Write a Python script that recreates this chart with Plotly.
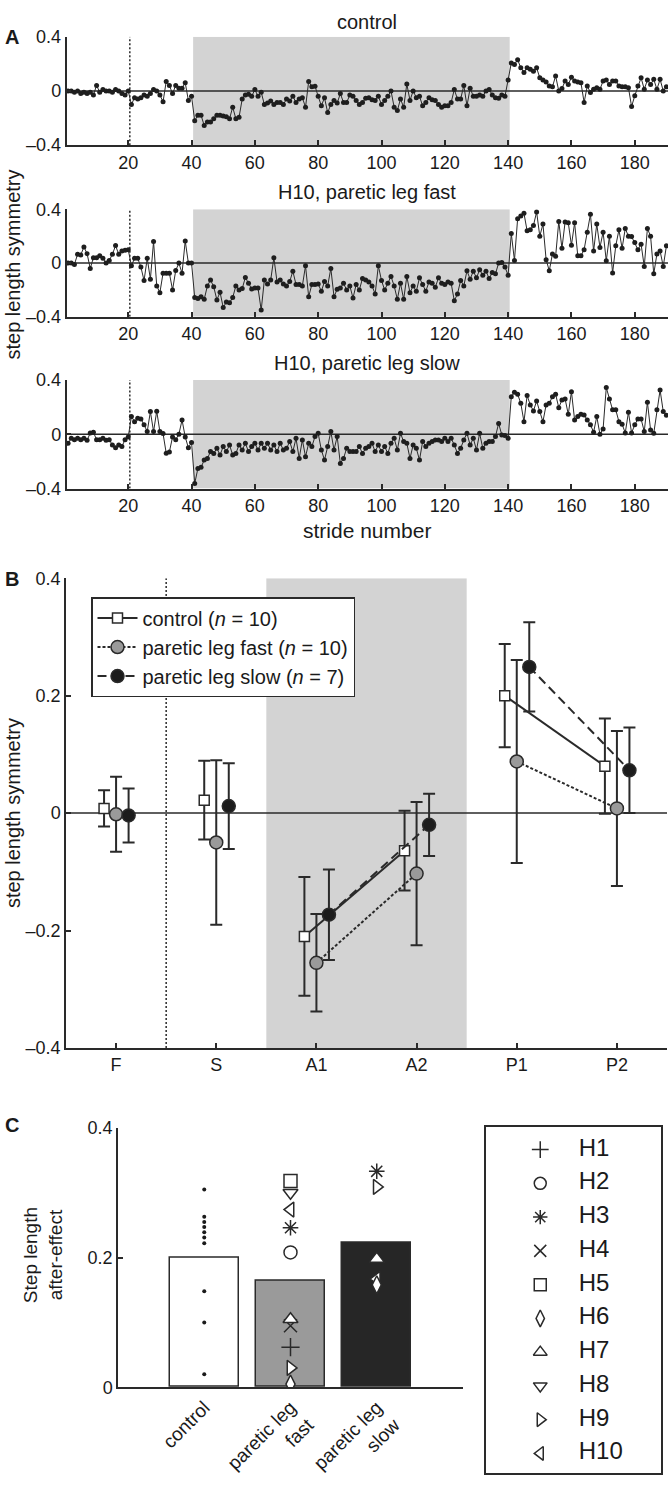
import plotly.graph_objects as go

FONT = "Liberation Sans, Arial, sans-serif"
INK = "#2a2a2a"
SHADE = "#d3d3d3"

# ---------------- Panel A: stride-by-stride step length symmetry ----------------
ctrl_baseline = [0.00, 0.00, -0.01, 0.00, -0.02, -0.01, -0.02, -0.01, -0.03, 0.04,
                 -0.01, 0.01, 0.00, 0.00, -0.01, 0.01, 0.00, -0.02, -0.03, 0.00]
ctrl_split = [-0.10, -0.05, -0.06, -0.05, -0.03, -0.04, -0.02, 0.01, 0.00, -0.03,
              -0.08, 0.07, 0.04, -0.02, 0.04, 0.02, 0.02, 0.06, -0.07, -0.04]
ctrl_adapt = [-0.22, -0.18, -0.18, -0.255, -0.23, -0.23, -0.205, -0.18, -0.18, -0.185,
              -0.19, -0.205, -0.12, -0.205, -0.195, -0.06, -0.03, -0.025, -0.04, 0.01,
              -0.04, -0.01, -0.10, -0.09, -0.075, -0.10, -0.085, -0.085, -0.10, -0.06,
              -0.075, -0.04, -0.085, -0.06, -0.05, -0.12, 0.07, 0.03, 0.035, -0.04,
              -0.11, -0.05, -0.16, -0.10, -0.07, -0.09, -0.02, -0.085, -0.085, -0.03,
              -0.04, -0.07, -0.10, -0.085, -0.055, -0.05, -0.065, -0.07, -0.04, -0.10,
              -0.07, -0.04, 0.00, -0.12, -0.145, -0.06, -0.12, 0.05, -0.07, 0.00,
              -0.05, -0.04, -0.11, -0.085, -0.05, -0.065, -0.07, -0.10, -0.12, -0.11,
              -0.11, -0.085, 0.01, -0.06, -0.06, 0.04, -0.11, 0.02, -0.04, -0.04,
              -0.03, -0.04, 0.00, 0.01, -0.03, -0.05, -0.055, -0.03, -0.04, 0.08]
ctrl_post = [0.205, 0.194, 0.23, 0.17, 0.135, 0.17, 0.16, 0.145, 0.17, 0.097,
             0.08, 0.065, 0.036, 0.03, 0.11, 0.00, 0.017, 0.073, 0.048, 0.10,
             0.073, 0.065, 0.06, -0.085, 0.036, -0.012, 0.012, 0.024, 0.012, 0.073,
             0.08, 0.048, 0.073, 0.073, 0.036, 0.03, 0.03, 0.024, -0.115, -0.036,
             0.036, 0.097, 0.012, 0.08, 0.048, 0.085, 0.012, 0.085, 0.00, 0.03]

fast_baseline = [0.00, 0.00, -0.01, 0.065, 0.06, 0.12, 0.07, -0.04, 0.04, 0.04,
                 0.055, 0.035, 0.00, 0.02, 0.065, 0.13, 0.065, 0.09, 0.095, 0.10]
fast_split = [-0.02, 0.035, 0.035, -0.03, -0.13, 0.035, -0.12, 0.16, -0.17, -0.22,
              -0.075, -0.075, -0.075, -0.20, -0.055, 0.00, -0.075, 0.165, 0.00, 0.00]
fast_adapt = [-0.257, -0.264, -0.25, -0.27, -0.17, -0.126, -0.176, -0.274, -0.217, -0.33,
              -0.29, -0.295, -0.257, -0.17, -0.20, -0.19, -0.107, -0.15, -0.193, -0.186,
              -0.186, -0.35, -0.126, -0.155, -0.126, 0.04, -0.14, -0.126, -0.155, -0.17,
              -0.138, -0.06, -0.16, -0.16, -0.17, -0.02, -0.25, -0.16, -0.16, -0.155,
              -0.21, -0.138, -0.17, -0.04, -0.25, -0.195, -0.186,
              -0.15, -0.2, -0.17, -0.26, -0.16, -0.2, -0.114, -0.125, -0.14, -0.17,
              -0.23, -0.02, -0.13, -0.2, -0.15, -0.10, -0.17, -0.27, -0.15, -0.27,
              -0.10, -0.22, -0.17, -0.21, -0.11, -0.16, -0.21, -0.14, -0.15, -0.18,
              -0.11, -0.15, -0.16, -0.14, -0.15, -0.28, -0.23, -0.13, -0.17, -0.057,
              -0.12, -0.06, -0.11, -0.05, -0.09, -0.06, -0.115, -0.07, -0.08, 0.00,
              0.005, -0.03, -0.09]
fast_post = [0.22, 0.02, 0.33, 0.35, 0.37, 0.24, 0.247, 0.28, 0.38, 0.2,
             0.29, 0.025, -0.057, 0.067, 0.05, 0.31, 0.11, 0.306, 0.30, 0.133,
             0.30, 0.054, 0.054, 0.10, 0.23, 0.363, 0.09, 0.29, 0.116, 0.23,
             0.017, 0.20, -0.074, 0.128, 0.247, 0.11, 0.257, 0.20, 0.197, 0.153,
             0.10, 0.14, -0.025, 0.257, 0.20, -0.08, 0.067, 0.09, -0.025, 0.128]

slow_baseline = [-0.067, -0.03, -0.04, -0.03, -0.04, -0.03, -0.045, 0.01, 0.015, -0.04,
                 -0.04, -0.03, -0.045, -0.04, -0.08, -0.10, -0.08, -0.09, -0.04, -0.02]
slow_split = [0.13, 0.093, 0.118, 0.113, 0.07, 0.02, 0.167, 0.02, 0.17, 0.02,
              0.005, -0.14, -0.13, -0.02, -0.04, 0.00, 0.105, -0.02, -0.10, -0.06]
slow_adapt = [-0.363, -0.252, -0.244, -0.19, -0.178, -0.128, -0.141, -0.104, -0.153, -0.091,
              -0.128, -0.079, -0.153, -0.141, -0.079, -0.116, -0.067, -0.128, -0.091, -0.067,
              -0.116, -0.067, -0.104, -0.067, -0.116, -0.079, -0.128, -0.067, -0.116, -0.104,
              -0.054, -0.128, -0.03, -0.178, -0.042, -0.165, -0.067, -0.091, -0.017, 0.007,
              -0.116, -0.19, -0.091, 0.02, -0.116, -0.017, -0.215, -0.178, -0.104, -0.128,
              -0.128, -0.128, -0.091, -0.141, -0.104, -0.091, -0.067, -0.128, -0.079, -0.128,
              -0.091, -0.141, -0.067, -0.03, -0.116, 0.007, -0.054, -0.067, -0.178, -0.079,
              -0.104, -0.19, -0.054, -0.091, -0.067, -0.054, -0.042, -0.042, -0.054, -0.03,
              -0.054, -0.03, -0.079, -0.141, -0.104, -0.042, 0.007, -0.079, -0.03, -0.116,
              0.007, -0.104, -0.067, -0.054, -0.054, -0.017, 0.08, -0.005, -0.01, -0.03]
slow_post = [0.277, 0.31, 0.295, 0.228, 0.093, 0.285, 0.216, 0.172, 0.245, 0.167,
             0.093, 0.216, 0.228, 0.277, 0.295, 0.196, 0.253, 0.26, 0.147, 0.314,
             0.105, 0.13, 0.147, 0.142, 0.105, 0.07, 0.015, 0.13, 0.0, 0.039,
             0.344, 0.26, 0.18, 0.18, 0.093, 0.074, 0.01, 0.162, 0.01, 0.07,
             0.113, 0.113, 0.02, 0.236, 0.032, 0.007, 0.18, 0.326, 0.167, 0.14]

series_A = [
    ("control", ctrl_baseline + ctrl_split + ctrl_adapt + ctrl_post),
    ("H10, paretic leg fast", fast_baseline + fast_split + fast_adapt + fast_post),
    ("H10, paretic leg slow", slow_baseline + slow_split + slow_adapt + slow_post),
]
stride_ticks = [20, 40, 60, 80, 100, 120, 140, 160, 180]
split_start = 20.5
adapt_window = (40.5, 140.5)

# ---------------- Panel B: group means +/- SD ----------------
phases = ["F", "S", "A1", "A2", "P1", "P2"]
ctrl_mean = [0.008, 0.022, -0.210, -0.064, 0.200, 0.080]
ctrl_sd = [0.031, 0.067, 0.101, 0.068, 0.088, 0.081]
fastg_mean = [-0.002, -0.050, -0.255, -0.103, 0.088, 0.008]
fastg_sd = [0.064, 0.140, 0.083, 0.122, 0.173, 0.132]
slowg_mean = [-0.004, 0.012, -0.173, -0.020, 0.249, 0.073]
slowg_sd = [0.046, 0.073, 0.077, 0.053, 0.076, 0.073]
line_pairs = [[0], [1], [2, 3], [4, 5]]  # which phases are joined by lines

# ---------------- Panel C: after-effects ----------------
groups_C = ["control", "paretic leg<br>fast", "paretic leg<br>slow"]
group_mean_C = [0.200, 0.164, 0.222]
control_ae = [0.305, 0.263, 0.255, 0.247, 0.239, 0.231, 0.222, 0.148, 0.100, 0.020]
subjects = ["H1", "H2", "H3", "H4", "H5", "H6", "H7", "H8", "H9", "H10"]
fast_ae = [0.062, 0.208, 0.246, 0.095, 0.318, 0.005, 0.105, 0.300, 0.030, 0.274]
slow_subjects = ["H3", "H9", "H7", "H10", "H6"]
slow_ae = [0.333, 0.309, 0.198, 0.167, 0.158]

symbol_of = {"H1": "cross-thin-open", "H2": "circle", "H3": "asterisk-open", "H4": "x-thin-open",
             "H5": "square", "H6": "diamond-tall", "H7": "triangle-up", "H8": "triangle-down",
             "H9": "triangle-right", "H10": "triangle-left"}
thin = {"H1", "H3", "H4"}

W, H = 670, 1497


def dx(p0, p1):
    return [p0 / W, p1 / W]


def dy(top, bottom):
    return [1 - bottom / H, 1 - top / H]


fig = go.Figure()

axis_common = dict(showline=True, linecolor=INK, linewidth=1.5, ticks="inside", ticklen=5,
                   tickcolor=INK, tickwidth=1.5, showgrid=False, zeroline=False,
                   tickfont=dict(family=FONT, size=18, color="#1a1a1a"))

layout = dict(width=W, height=H, margin=dict(l=0, r=0, t=0, b=0),
              plot_bgcolor="white", paper_bgcolor="white",
              font=dict(family=FONT, color="#1a1a1a"))
shapes = []
annotations = []

# Panel A subplots
A_rows = [(27, 137, 12), (202, 311, 184), (375, 485, 358)]
xA = dx(66.5, 668)
for i, ((name, vals), (top, bot, ty)) in enumerate(zip(series_A, A_rows), start=1):
    xa = "x" if i == 1 else f"x{i}"
    ya = "y" if i == 1 else f"y{i}"
    strides = list(range(1, len(vals) + 1))
    fig.add_trace(go.Scatter(x=strides, y=vals, mode="lines+markers",
                             line=dict(color=INK, width=1), marker=dict(size=5, color="#1e1e1e"),
                             xaxis=xa, yaxis=ya, showlegend=False, hoverinfo="skip"))
    layout[f"xaxis{'' if i == 1 else i}"] = dict(axis_common, domain=xA, range=[0.5, 190.5],
                                                 tickvals=stride_ticks, anchor=ya)
    layout[f"yaxis{'' if i == 1 else i}"] = dict(axis_common, domain=dy(top, bot), range=[-0.4, 0.4],
                                                 tickvals=[-0.4, 0, 0.4], ticktext=["\u20130.4", "0", "0.4"],
                                                 anchor=xa)
    shapes.append(dict(type="rect", xref=xa, yref=ya, x0=adapt_window[0], x1=adapt_window[1],
                       y0=-0.4, y1=0.4, fillcolor=SHADE, line=dict(width=0), layer="below"))
    shapes.append(dict(type="line", xref=xa, yref=ya, x0=split_start, x1=split_start, y0=-0.4, y1=0.4,
                       line=dict(color=INK, width=1.5, dash="2px,2px"), layer="below"))
    shapes.append(dict(type="line", xref=xa, yref=ya, x0=0.5, x1=190.5, y0=0, y1=0,
                       line=dict(color=INK, width=1.5), layer="below"))
    annotations.append(dict(text=name, x=sum(xA) / 2, y=1 - ty / H, xref="paper", yref="paper",
                            showarrow=False, font=dict(size=20), xanchor="center", yanchor="middle"))

annotations.append(dict(text="stride number", x=sum(xA) / 2, y=1 - 528 / H, xref="paper", yref="paper",
                        showarrow=False, font=dict(size=21), xanchor="center", yanchor="middle"))
annotations.append(dict(text="step length symmetry", x=13 / W, y=1 - 258 / H, xref="paper", yref="paper",
                        showarrow=False, font=dict(size=20), textangle=-90, xanchor="center", yanchor="middle"))

# Panel B
xB = dx(66, 667)
layout["xaxis4"] = dict(axis_common, domain=xB, range=[0.5, 6.5], tickvals=list(range(1, 7)),
                        ticktext=phases, anchor="y4")
layout["yaxis4"] = dict(axis_common, domain=dy(576, 1052), range=[-0.4, 0.4],
                        tickvals=[-0.4, -0.2, 0, 0.2, 0.4],
                        ticktext=["\u20130.4", "\u20130.2", "0", "0.2", "0.4"], anchor="x4")
shapes.append(dict(type="rect", xref="x4", yref="y4", x0=2.5, x1=4.5, y0=-0.4, y1=0.4,
                   fillcolor=SHADE, line=dict(width=0), layer="below"))
shapes.append(dict(type="line", xref="x4", yref="y4", x0=1.5, x1=1.5, y0=-0.4, y1=0.4,
                   line=dict(color=INK, width=1.5, dash="2px,2px"), layer="below"))
shapes.append(dict(type="line", xref="x4", yref="y4", x0=0.5, x1=6.5, y0=0, y1=0,
                   line=dict(color=INK, width=1.5), layer="below"))

groupsB = [
    ("control (<i>n</i> = 10)", ctrl_mean, ctrl_sd, -0.12, "solid",
     dict(symbol="square", size=10, color="white", line=dict(color=INK, width=1.5))),
    ("paretic leg fast (<i>n</i> = 10)", fastg_mean, fastg_sd, 0.0, "3px,2px",
     dict(symbol="circle", size=13, color="#9a9a9a", line=dict(color=INK, width=1.5))),
    ("paretic leg slow (<i>n</i> = 7)", slowg_mean, slowg_sd, 0.125, "9px,5px",
     dict(symbol="circle", size=13, color="#1c1c1c", line=dict(color=INK, width=1.5))),
]
for label, mean, sd, off, dash, mk in groupsB:
    xs, ys, es = [], [], []
    for k, grp in enumerate(line_pairs):
        if k:
            xs.append(None); ys.append(None); es.append(0)
        for j in grp:
            xs.append(j + 1 + off); ys.append(mean[j]); es.append(sd[j])
    fig.add_trace(go.Scatter(x=xs, y=ys, mode="lines+markers", name=label,
                             line=dict(color=INK, width=2, dash=dash), marker=mk,
                             error_y=dict(type="data", array=es, visible=True, color=INK,
                                          thickness=2, width=6),
                             xaxis="x4", yaxis="y4", connectgaps=False, hoverinfo="skip"))

layout["legend"] = dict(x=91 / W, y=1 - 595 / H, xanchor="left", yanchor="top",
                        bgcolor="white", bordercolor=INK, borderwidth=1.5,
                        font=dict(family=FONT, size=20), tracegroupgap=0, itemwidth=40)

annotations.append(dict(text="step length symmetry", x=13 / W, y=1 - 814 / H, xref="paper", yref="paper",
                        showarrow=False, font=dict(size=20), textangle=-90, xanchor="center", yanchor="middle"))

# Panel C
layout["xaxis5"] = dict(axis_common, domain=dx(118, 463), range=[0, 4], tickvals=[1, 2, 3],
                        ticktext=groups_C, ticks="", tickangle=-45, anchor="y5",
                        tickfont=dict(family=FONT, size=19, color="#1a1a1a"))
layout["yaxis5"] = dict(axis_common, domain=dy(1133, 1396), range=[0, 0.4], tickvals=[0, 0.2, 0.4],
                        ticktext=["0", "0.2", "0.4"], anchor="x5")
fig.add_trace(go.Bar(x=[1, 2, 3], y=group_mean_C, width=0.8,
                     marker=dict(color=["white", "#9a9a9a", "#262626"], line=dict(color=INK, width=1.5)),
                     xaxis="x5", yaxis="y5", showlegend=False, hoverinfo="skip"))
fig.add_trace(go.Scatter(x=[1] * len(control_ae), y=control_ae, mode="markers",
                         marker=dict(size=4, color="#1a1a1a"), xaxis="x5", yaxis="y5",
                         showlegend=False, hoverinfo="skip"))


def subj_marker(names, size=13):
    return dict(symbol=[symbol_of[n] for n in names], size=size,
                color=[INK if n in thin else "white" for n in names],
                line=dict(color=INK, width=1.5))


fig.add_trace(go.Scatter(x=[2] * len(fast_ae), y=fast_ae, mode="markers", marker=subj_marker(subjects),
                         xaxis="x5", yaxis="y5", showlegend=False, hoverinfo="skip"))
fig.add_trace(go.Scatter(x=[3] * len(slow_ae), y=slow_ae, mode="markers", marker=subj_marker(slow_subjects),
                         xaxis="x5", yaxis="y5", showlegend=False, hoverinfo="skip"))

annotations.append(dict(text="Step length<br>after-effect", x=43 / W, y=1 - 1262 / H, xref="paper",
                        yref="paper", showarrow=False, font=dict(size=19), textangle=-90,
                        xanchor="center", yanchor="middle"))

# Panel C subject key (boxed)
box_ax = dict(showline=True, mirror=True, linecolor=INK, linewidth=1.5, ticks="", showticklabels=False,
              showgrid=False, zeroline=False, fixedrange=True)
layout["xaxis6"] = dict(box_ax, domain=dx(486, 661), range=[0, 1], anchor="y6")
layout["yaxis6"] = dict(box_ax, domain=dy(1132, 1483), range=[10.585, 0.327], anchor="x6")
key_pos = list(range(1, len(subjects) + 1))
fig.add_trace(go.Scatter(x=[0.31] * len(subjects), y=key_pos, mode="markers",
                         marker=subj_marker(subjects, size=12), xaxis="x6", yaxis="y6",
                         showlegend=False, hoverinfo="skip"))
fig.add_trace(go.Scatter(x=[0.53] * len(subjects), y=key_pos, mode="text", text=subjects,
                         textposition="middle right", textfont=dict(family=FONT, size=24, color="#1a1a1a"),
                         xaxis="x6", yaxis="y6", showlegend=False, hoverinfo="skip"))

# Panel letters
for letter, py in [("A", 27), ("B", 577), ("C", 1130)]:
    annotations.append(dict(text=f"<b>{letter}</b>", x=12 / W, y=1 - py / H, xref="paper", yref="paper",
                            showarrow=False, font=dict(size=20), xanchor="center", yanchor="middle"))

layout["shapes"] = shapes
layout["annotations"] = annotations
layout["bargap"] = 0
fig.update_layout(**layout)

fig.write_html("out.html", config={"displayModeBar": False},
               post_script="document.body.style.margin='0';document.body.style.overflow='hidden';")
